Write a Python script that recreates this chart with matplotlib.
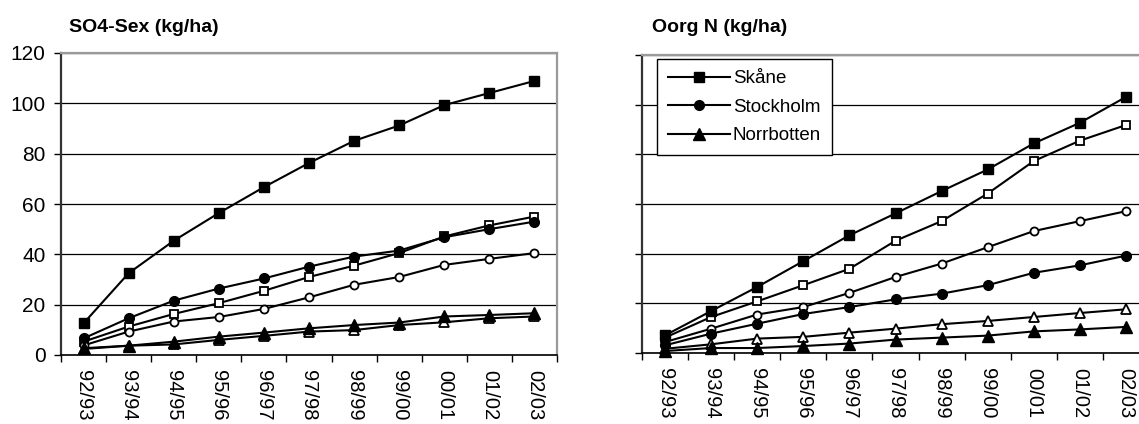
import numpy as np
import matplotlib
matplotlib.use('Agg')
import matplotlib.pyplot as plt

plt.rcParams['font.family'] = ['Liberation Sans', 'DejaVu Sans']

# kategorier (säsonger)
seasons = ['92/93', '93/94', '94/95', '95/96', '96/97', '97/98',
           '98/99', '99/00', '00/01', '01/02', '02/03']

# SO4-Sex (kg/ha) - fyllda och ofyllda symboler
so4_skane = [12.6, 32.5, 45.4, 56.4, 66.7, 76.3, 85.1, 91.2, 99.3, 104.1, 108.9]
so4_skane_open = [5.3, 11.3, 16.3, 20.6, 25.5, 31.0, 35.5, 40.5, 47.1, 51.5, 55.0]
so4_sthlm = [6.6, 14.6, 21.6, 26.4, 30.4, 35.1, 39.1, 41.5, 46.8, 50.0, 53.0]
so4_sthlm_open = [3.8, 9.3, 13.3, 15.1, 18.3, 22.9, 27.9, 31.0, 35.8, 38.2, 40.5]
so4_norr = [2.7, 3.7, 5.3, 7.3, 8.9, 10.6, 11.9, 12.9, 15.3, 15.9, 16.6]
so4_norr_open = [2.4, 3.7, 4.2, 6.0, 7.6, 9.3, 9.9, 11.9, 13.0, 14.6, 15.3]

# Oorg N (kg/ha)
n_skane = [7.1, 16.9, 26.6, 37.0, 47.4, 56.2, 65.2, 73.9, 84.4, 92.7, 103.1]
n_skane_open = [6.2, 14.5, 20.8, 27.3, 33.9, 45.2, 53.1, 64.2, 77.3, 85.5, 91.8]
n_sthlm = [3.1, 7.8, 11.8, 15.7, 18.5, 21.6, 23.9, 27.3, 32.3, 35.3, 39.2]
n_sthlm_open = [4.4, 9.8, 15.5, 18.5, 24.2, 30.6, 36.0, 42.6, 49.1, 53.1, 57.1]
n_norr = [0.8, 2.0, 2.0, 2.8, 3.8, 5.4, 6.2, 7.0, 8.7, 9.5, 10.5]
n_norr_open = [1.7, 3.5, 5.8, 6.5, 8.2, 9.8, 11.6, 12.9, 14.5, 16.1, 17.6]

labels = ['Skåne', 'Stockholm', 'Norrbotten']

fig = plt.figure(figsize=(11.39, 4.24), dpi=100)
ax1 = fig.add_axes([61 / 1139, 69 / 424, 496 / 1139, 302 / 424])
ax2 = fig.add_axes([642 / 1139, 71 / 424, 507 / 1139, 298 / 424])


def rita(ax, filled, opened, ylabels=True):
    x = np.arange(len(seasons))
    ax.set_axisbelow(True)
    ax.yaxis.grid(True, color='black', linewidth=0.9)
    mk = ['s', 'o', '^']
    fs = [7.6, 7.0, 8.0]
    os_ = [6.0, 5.8, 6.6]
    for y, m, s in zip(opened, mk, os_):
        ax.plot(x, y, color='black', lw=1.5, marker=m, ms=s, mfc='white',
                mec='black', mew=1.3, clip_on=False)
    hs = []
    for y, m, s in zip(filled, mk, fs):
        h, = ax.plot(x, y, color='black', lw=1.5, marker=m, ms=s, mfc='black',
                     mec='black', clip_on=False)
        hs.append(h)
    ax.set_xlim(-0.5, len(seasons) - 0.5)
    ax.set_ylim(0, 120)
    ax.set_yticks(range(0, 121, 20))
    ax.set_xticks(np.arange(len(seasons) + 1) - 0.5)
    ax.set_xticklabels([])
    ax.set_xticks(x, minor=True)
    ax.set_xticklabels(seasons, minor=True, rotation=-90, fontsize=14.5)
    ax.tick_params(axis='x', which='minor', length=0, pad=10.5)
    ax.tick_params(axis='x', which='major', length=5, direction='out', width=1)
    ax.tick_params(axis='y', length=5, direction='out', width=1, labelsize=15, pad=6)
    if not ylabels:
        ax.set_yticklabels([])
    for sp in ['top', 'right']:
        ax.spines[sp].set_color('#9a9a9a')
        ax.spines[sp].set_linewidth(1.6)
    ax.spines['left'].set_linewidth(1.6)
    ax.spines['left'].set_color('#333333')
    ax.spines['bottom'].set_linewidth(1.2)
    return hs


rita(ax1, [so4_skane, so4_sthlm, so4_norr], [so4_skane_open, so4_sthlm_open, so4_norr_open])
hs = rita(ax2, [n_skane, n_sthlm, n_norr], [n_skane_open, n_sthlm_open, n_norr_open],
          ylabels=False)

leg = ax2.legend(hs, labels, loc='upper left', bbox_to_anchor=(657 / 1139, 1 - 59 / 424),
                 bbox_transform=fig.transFigure, fontsize=13.5, frameon=True,
                 fancybox=False, framealpha=1, edgecolor='black', borderpad=0.6,
                 handlelength=3.3, handletextpad=0.15, labelspacing=0.6,
                 borderaxespad=0)
leg.get_frame().set_linewidth(1.0)

fig.text(69 / 1139, 1 - 28 / 424, 'SO4-Sex (kg/ha)', fontsize=14, fontweight='bold',
         va='center', ha='left')
fig.text(652 / 1139, 1 - 28 / 424, 'Oorg N (kg/ha)', fontsize=14, fontweight='bold',
         va='center', ha='left')

fig.savefig('out.png', dpi=100)
